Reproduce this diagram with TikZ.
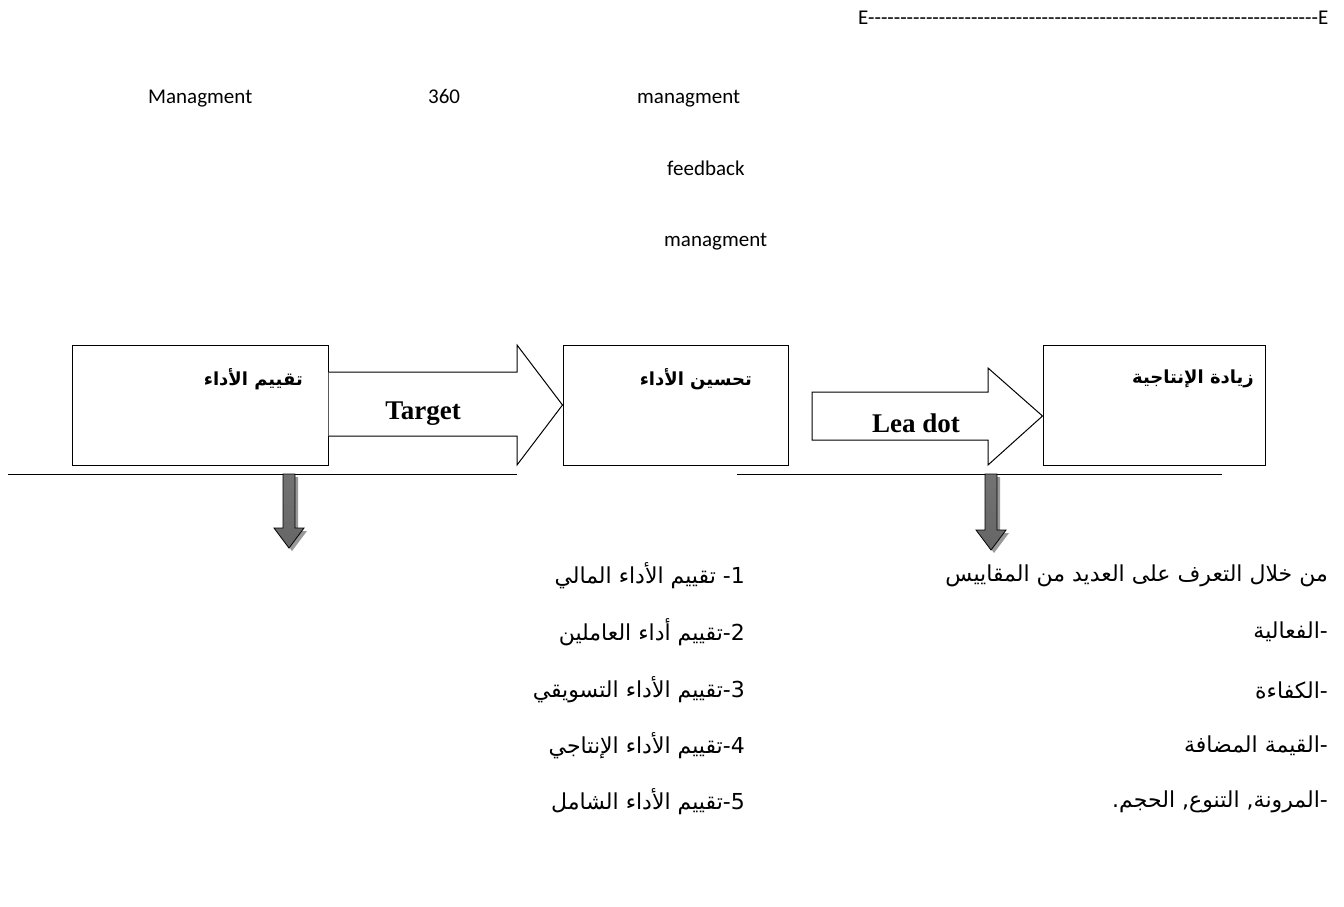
\documentclass[tikz,border=0pt]{standalone}
\usepackage{fontspec}
\setmainfont{Carlito}
\newfontfamily\plainlat{Carlito}
\newfontfamily\arfont[Script=Arabic]{DejaVu Sans}
\newfontfamily\lbfont{Liberation Serif}
\TeXXeTstate=1
\begin{document}
\begin{tikzpicture}[x=1pt,y=-1pt,
  lat/.style={font=\plainlat\fontsize{21}{25}\selectfont, inner sep=0pt, anchor=base west},
  artxt/.style={font=\arfont\fontsize{22}{26}\selectfont, inner sep=0pt, anchor=east},
  artitle/.style={font=\arfont\bfseries\fontsize{18}{22}\selectfont, inner sep=0pt, anchor=east},
  lbl/.style={font=\lbfont\bfseries\fontsize{27}{30}\selectfont, inner sep=0pt},
  stagebox/.style={draw, line width=1pt, inner sep=0pt},
  blockarrow/.style={draw, line width=1pt, line join=miter, fill=white},
  rule/.style={draw, line width=1pt},
  dshadow/.style={fill=black!40},
  dshade/.style={draw=black, line width=0.8pt, top color=black!55, middle color=black!95, bottom color=black!60}
]
\useasboundingbox (0,0) rectangle (1344,907);

% top texts
\node[lat] (eline) at (858,25) {E----------------------------------------------------------------------E};
\node[lat] (m1) at (148,103) {Managment};
\node[lat] (n360) at (428,103) {360};
\node[lat] (m2) at (637,103) {managment};
\node[lat] (fb) at (667,175) {feedback};
\node[lat] (m3) at (664,246) {managment};

% boxes
\node[stagebox, minimum width=256pt, minimum height=120pt] (b1) at (200,405) {};
\node[stagebox, minimum width=225pt, minimum height=120pt] (b2) at (675.5,405) {};
\node[stagebox, minimum width=222pt, minimum height=120pt] (b3) at (1154,405) {};

\node[artitle] (t1) at (303,379) {\beginR تقييم الأداء\endR};
\node[artitle] (t2) at (752,379) {\beginR تحسين الأداء\endR};
\node[artitle] (t3) at (1254,379) {\beginR زيادة الإنتاجية\endR};

% block arrows
\draw[blockarrow] (b1.east |- 0,372) -- (517,372) -- (517,345) -- (b2.west) -- (517,465) -- (517,436) -- (b1.east |- 0,436);
\node[lbl] (target) at (423,414) {Target};
\draw[blockarrow] (812,392) -- (988,392) -- (988,368) -- (b3.west |- 0,416) -- (988,465) -- (988,440) -- (812,440) -- cycle;
\node[lbl] (leadot) at (916,423) {Lea dot};

% rules
\coordinate (r1a) at (8,474);
\coordinate (r1b) at (517,474);
\coordinate (r2a) at (737,474);
\coordinate (r2b) at (1222,474);
\draw[rule] (r1a) -- (r1b);
\draw[rule] (r2a) -- (r2b);

% down arrows
\newcommand\dnarrow[3]{%
  \fill[dshadow] ([xshift=3pt,yshift=-3pt]#1-6,474) -- ++(12,0) -- ++(0,#2-474) -- ++(9,0) -- ++(-15,#3-#2) -- ++(-15,-#3+#2) -- ++(9,0) -- cycle;
  \shadedraw[dshade] (#1-6,474) -- ++(12,0) -- ++(0,#2-474) -- ++(9,0) -- ++(-15,#3-#2) -- ++(-15,-#3+#2) -- ++(9,0) -- cycle;}
\dnarrow{289}{528}{548}
\dnarrow{991}{530}{550}

% left list
\node[artxt] (l1) at (745,576) {\beginR تقييم الأداء المالي\endR{} 1-};
\node[artxt] (l2) at (745,632) {\beginR تقييم أداء العاملين\endR{}2-};
\node[artxt] (l3) at (745,690) {\beginR تقييم الأداء التسويقي\endR{}3-};
\node[artxt] (l4) at (745,746) {\beginR تقييم الأداء الإنتاجي\endR{}4-};
\node[artxt] (l5) at (745,802) {\beginR تقييم الأداء الشامل\endR{}5-};

% right list
\node[artxt] (q1) at (1328,576) {\beginR من خلال التعرف على العديد من المقاييس\endR};
\node[artxt] (q2) at (1328,632) {\beginR الفعالية\endR{}-};
\node[artxt] (q3) at (1328,690) {\beginR الكفاءة\endR{}-};
\node[artxt] (q4) at (1328,746) {\beginR القيمة المضافة\endR{}-};
\node[artxt] (q5) at (1328,802) {.\beginR الحجم\endR{} ,\beginR التنوع\endR{} ,\beginR المرونة\endR{}-};
\end{tikzpicture}
\end{document}
